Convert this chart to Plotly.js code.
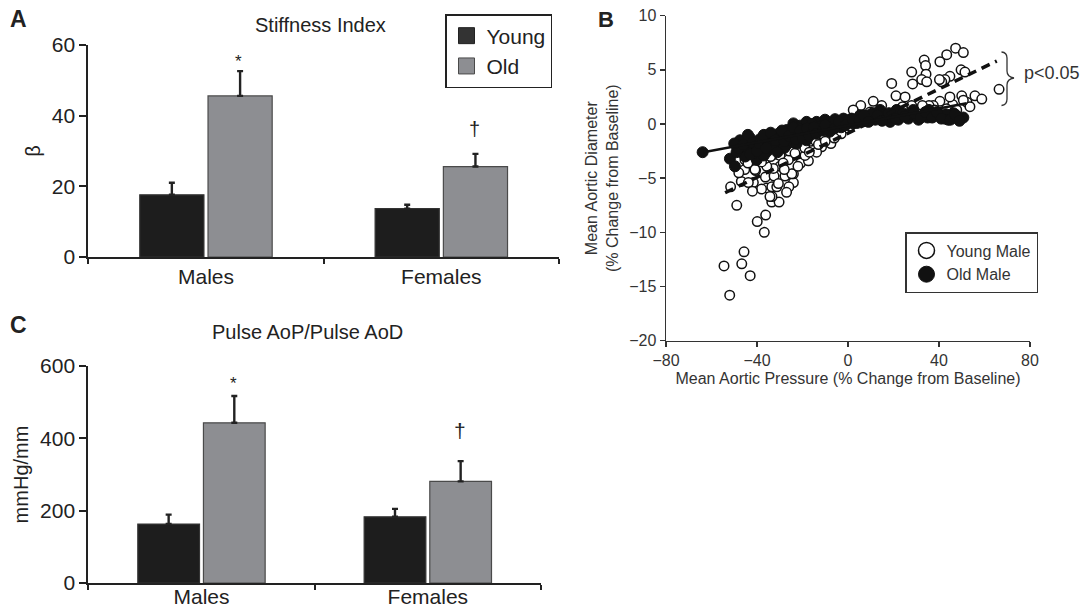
<!DOCTYPE html>
<html>
<head>
<meta charset="utf-8">
<script src="https://cdn.plot.ly/plotly-3.0.1.min.js"></script>
<style>
  html, body { margin: 0; padding: 0; background: #fff; }
  #fig { width: 1085px; height: 612px; }
</style>
</head>
<body>
<div id="fig"></div>
<script>
// ---- Panel A: stiffness index (beta) ----
const groups = ['Males', 'Females'];
const stiffYoung = [17.6, 13.7];
const stiffYoungErr = [3.4, 1.1];
const stiffOld = [45.6, 25.6];
const stiffOldErr = [7.0, 3.6];

// ---- Panel C: pulse aortic pressure / pulse aortic diameter (mmHg/mm) ----
const pulseYoung = [163, 183];
const pulseYoungErr = [26, 22];
const pulseOld = [443, 281];
const pulseOldErr = [74, 56];

// ---- Panel B: % change of mean aortic diameter vs mean aortic pressure ----
const youngMaleX = [
  -52, -54.5, -46.7, -43, -45.7, -36.8, -39.9, -36.2, -48.9, -51.6, -46.9, -41.6, -45.4, -40.6,
  -33.5, -30.3, -33.4, -35.7, -33.5, -31.3, -36.3, -32.5, -27.7, -24, -24, -29.9, -32.8, -35.7,
  -36.5, -26.2, -20.8, -17.4, -31.3, -25.8, -21.8, -15.2, -11.6, -16.4, -9.4, -5.0, -12.5, -41.6,
  -45.3, -29.9, -0.6, -3.5, -6.5, -8.6, -10.8, -14.5, -19.6, -22.6, 2.3,
  -23.3, -24.7, -40.9, -43.8, -30.6, -34.3, -28.5, -18.9, -13.8, -7.5, -3.0, 1.0, 4.5, 8.0, 12.0,
  16.5, 24.0, 30.5, 46.0, 52.3,
  -38, -34, -28, -26, -22, -19, -17, -13, -10, -6, -38, -27, -42, -48, -44,
  47.3, 50.7, 43.4, 40.4, 33.5, 34.1, 34.3, 28.0, 32.4, 34.6, 28.4, 19.2, 49.7, 51.4, 44.8, 42.6,
  41.2, 40.2, 66.4, 55.8, 58.8, 50.0, 53.6, 50.7, 44.8, 40.4, 37.5, 35.6, 32.7, 28.0, 21.1, 25.1,
  14.8, 11.1, 5.6, 2.3, 9.7, 21.4, 26.3, 19.6, 38.1, 41.9, 34.6, 43.3, 47.8
];
const youngMaleY = [
  -15.8, -13.1, -12.9, -14, -11.8, -10.0, -9.0, -8.4, -7.5, -5.8, -5.3, -5.4, -4.2, -4.3,
  -7.2, -7.2, -6.7, -5.9, -5.8, -5.8, -4.9, -4.8, -4.8, -5.4, -4.6, -3.9, -4.1, -3.9,
  -3.2, -3.3, -3.6, -3.4, -2.8, -2.5, -2.6, -2.2, -2.1, -1.6, -1.2, -1.0, -1.6, -3.3,
  -3.3, -2.9, 0.4, -0.15, -0.55, -1.5, -1.0, -1.5, -1.5, -1.5, 0.6,
  -2.7, -4.6, -4.2, -5.4, -5.5, -6.7, -3.6, -2.9, -2.6, -1.8, -0.9, -0.2, 0.2, 0.6, 0.9,
  0.7, 1.6, 1.2, 1.8, 2.0,
  -3.5, -3.0, -4.2, -5.8, -3.9, -2.2, -2.6, -1.9, -1.6, -1.3, -6.0, -6.3, -6.2, -4.5, -3.6,
  7.0, 6.6, 6.4, 5.75, 5.9, 5.4, 4.6, 4.8, 4.1, 3.9, 3.7, 3.75, 5.0, 4.8, 4.4, 4.1,
  3.9, 4.1, 3.2, 2.6, 2.3, 2.6, 1.6, 2.2, 2.5, 2.1, 1.7, 1.7, 1.7, 1.7, 2.6, 2.5,
  1.7, 2.1, 1.7, 1.3, 1.1, 1.3, 0.8, 1.0, 1.3, 0.8, 0.7, 1.4, 1.3
];
const oldMaleX = [
  -63.9, -51.9, -49.7, -46.0, -40.1, -45.2, -43.0, -38.7, -35.0, -30.6, -26.9, -24.0, -21.1, -18.2,
  -13.8, -10.1, -5.7, -44.5, -41.6, -38.0, -34.3, -29.9, -27.7, -24.0, -21.1, -16.7, -13.8, -9.4,
  -5.0, -0.6, -41.6, -35.7, -32.8, -26.9, -22.6, -18.2, -47.5, -45.2, -49.0,
  1.6, 5.3, 8.2, 11.1, 14.1, 17.0, 20.7, 23.6, 26.5, 30.2, 33.1, 36.8, 40.4, 42.6, 44.8, 50.7,
  46.3, 9.7, 18.5, 22.1, 14.1, 21.4, 28.7, 35.6, 3.8, -2.1, 2.3,
  -48, -43, -37, -33, -30, -28, -25, -22, -19, -16, -12, -8, -7, -3, -2, 0, 4, 6, 10, 12, 16,
  19, 24, 27, 31, 35, 38, 43, 44, 48,
  -50, -46, -44, -42, -40, -39, -37, -36, -34, -32, -31, -29, -28, -26, -24, -23, -21, -20, -18,
  -17, -15, -14, -11, -10, -6, -4, -1, 2, 5, 7, 9, 13, 15, 18, 21, 25, 29, 32, 34, 37, 39, 41,
  45, 47, 49
];
const oldMaleY = [
  -2.6, -3.2, -3.9, -2.7, -3.3, -1.5, -1.3, -1.4, -1.2, -0.9, -0.55, 0.06, -0.15, 0.2,
  0.2, 0.4, 0.45, -2.2, -2.1, -2.1, -1.8, -1.6, -1.3, -1.2, -0.9, -0.7, -0.55, -0.4,
  -0.2, 0.06, -2.7, -2.55, -2.2, -1.9, -1.8, -1.5, -1.5, -3.0, -2.6,
  0.5, 0.8, 0.7, 1.0, 0.7, 0.5, 0.8, 0.7, 0.5, 0.74, 0.8, 1.0, 0.8, 0.5, 0.7, 0.6,
  1.0, 0.37, 0.2, 0.4, 1.3, 1.3, 1.3, 1.3, 0.37, 0.2, 0.06,
  -2.2, -2.8, -2.9, -2.0, -1.2, -2.2, -0.8, -0.4, -1.0, 0.0, -0.2, -0.7, 0.1, -0.3, 0.5, 0.3,
  0.1, 0.5, 0.9, 0.4, 0.9, 0.6, 1.0, 0.9, 0.4, 0.6, 0.9, 0.9, 0.4, 0.7,
  -1.8, -1.9, -1.0, -1.7, -2.5, -1.8, -1.0, -2.2, -0.8, -1.5, -2.6, -0.6, -1.6, -1.1, -0.3, -1.4,
  -0.6, -1.3, -0.4, -1.1, -0.3, -0.9, -0.6, -0.1, -0.4, 0.2, -0.1, 0.4, 0.3, 0.8, 0.2, 0.8, 0.3,
  1.0, 0.5, 0.7, 1.0, 0.6, 1.1, 0.6, 1.1, 0.5, 0.4, 0.9, 0.3
];
// Linear fits for each group (end points of the fitted segments)
const youngFitX = [-54, 65.4];
const youngFitY = [-6.34, 5.82];
const oldFitX = [-63.6, 52.2];
const oldFitY = [-2.61, 1.91];

// ---- styling ----
const W = 1085, H = 612;
const FONT = 'Liberation Sans, Arial, Helvetica, sans-serif';
const INK = '#222';
const YOUNG_FILL = '#1d1d1d';
const OLD_FILL = '#8d8e92';
const zeros = arr => arr.map(() => 0);
const px = x => x / W;           // pixel column -> paper x
const py = y => 1 - y / H;       // pixel row -> paper y

function barTrace(y, err, fill, edge, xa, ya) {
  return {
    type: 'bar', x: groups, y: y, xaxis: xa, yaxis: ya, showlegend: false,
    marker: { color: fill, line: { color: edge, width: 1.2 } },
    error_y: { type: 'data', symmetric: false, array: err, arrayminus: zeros(err),
               color: INK, thickness: 2.4, width: 3 },
    hoverinfo: 'skip'
  };
}

const traces = [
  barTrace(stiffYoung, stiffYoungErr, YOUNG_FILL, '#333', 'x', 'y'),
  barTrace(stiffOld, stiffOldErr, OLD_FILL, '#4a4a4a', 'x', 'y'),
  barTrace(pulseYoung, pulseYoungErr, YOUNG_FILL, '#333', 'x3', 'y3'),
  barTrace(pulseOld, pulseOldErr, OLD_FILL, '#4a4a4a', 'x3', 'y3'),
  // legend keys for the bar panels
  { type: 'scatter', mode: 'markers', x: [null], y: [null], xaxis: 'x', yaxis: 'y',
    name: 'Young', legend: 'legend',
    marker: { symbol: 'square', size: 16, color: '#333', line: { color: '#222', width: 1 } } },
  { type: 'scatter', mode: 'markers', x: [null], y: [null], xaxis: 'x', yaxis: 'y',
    name: 'Old', legend: 'legend',
    marker: { symbol: 'square', size: 16, color: OLD_FILL, line: { color: '#4a4a4a', width: 1 } } },
  // scatter panel
  { type: 'scatter', mode: 'markers', x: youngMaleX, y: youngMaleY, xaxis: 'x2', yaxis: 'y2',
    showlegend: false, cliponaxis: false,
    marker: { symbol: 'circle', size: 9.5, color: '#fff', line: { color: '#111', width: 1.5 } } },
  { type: 'scatter', mode: 'markers', x: oldMaleX, y: oldMaleY, xaxis: 'x2', yaxis: 'y2',
    showlegend: false, cliponaxis: false,
    marker: { symbol: 'circle', size: 11, color: '#111', line: { color: '#111', width: 1 } } },
  { type: 'scatter', mode: 'lines', x: youngFitX, y: youngFitY, xaxis: 'x2', yaxis: 'y2',
    showlegend: false, line: { color: '#111', width: 3.5, dash: '9px,6px' } },
  { type: 'scatter', mode: 'lines', x: oldFitX, y: oldFitY, xaxis: 'x2', yaxis: 'y2',
    showlegend: false, line: { color: '#111', width: 2.5 } },
  // legend keys for the scatter panel
  { type: 'scatter', mode: 'markers', x: [null], y: [null], xaxis: 'x2', yaxis: 'y2',
    name: 'Young Male', legend: 'legend2',
    marker: { symbol: 'circle', size: 16, color: '#fff', line: { color: '#111', width: 1.5 } } },
  { type: 'scatter', mode: 'markers', x: [null], y: [null], xaxis: 'x2', yaxis: 'y2',
    name: 'Old Male', legend: 'legend2',
    marker: { symbol: 'circle', size: 16, color: '#111', line: { color: '#111', width: 1 } } }
];

const barX = (domain, anchor, standoff) => ({
  domain: domain, anchor: anchor, type: 'category', range: [-0.5, 1.5],
  showline: true, linecolor: INK, linewidth: 2, showgrid: false, zeroline: false,
  ticks: 'outside', tickson: 'boundaries', ticklen: 5, tickwidth: 2, tickcolor: INK,
  ticklabelstandoff: standoff,
  tickfont: { size: 21, color: INK }
});
const barY = (domain, anchor, range, tickvals, title) => ({
  domain: domain, anchor: anchor, range: range, tickvals: tickvals,
  showline: true, linecolor: INK, linewidth: 2, showgrid: false, zeroline: false,
  ticks: 'outside', ticklen: 7, tickwidth: 2, tickcolor: INK,
  tickfont: { size: 21, color: INK },
  title: { text: title, font: { size: 20, color: INK }, standoff: 6 }
});

// Curly brace joining the two fitted lines, in pixel space
const bracePts = [
  ['M', 1001.5, 52], ['Q', 1007, 52.5], [null, 1007, 58], ['L', 1007, 71],
  ['Q', 1007, 77], [null, 1014, 78], ['Q', 1007, 79], [null, 1007, 85],
  ['L', 1007, 99], ['Q', 1007, 105], [null, 1001.5, 105.5]
];
const bracePath = bracePts.map(p => (p[0] ? p[0] + ' ' : '') + px(p[1]).toFixed(5) + ',' + py(p[2]).toFixed(5)).join(' ');

const ann = (text, x, y, size, opts) => Object.assign({
  text: text, x: x, y: y, xref: 'paper', yref: 'paper', showarrow: false,
  xanchor: 'center', yanchor: 'middle', font: { size: size, color: INK, family: FONT }
}, opts || {});

const layout = {
  width: W, height: H, autosize: false,
  margin: { l: 0, r: 0, t: 0, b: 0, pad: 0 },
  paper_bgcolor: '#fff', plot_bgcolor: 'rgba(0,0,0,0)',
  font: { family: FONT, color: INK },
  barmode: 'group', bargap: 0.42, bargroupgap: 0.06,
  showlegend: true,
  xaxis: barX([px(88.3), px(559)], 'y', 0),
  yaxis: barY([py(257), py(45)], 'x', [0, 60], [0, 20, 40, 60], 'β'),
  xaxis3: barX([px(88.3), px(541)], 'y3', -6),
  yaxis3: barY([py(583), py(366)], 'x3', [0, 600], [0, 200, 400, 600], 'mmHg/mm'),
  xaxis2: {
    domain: [px(666), px(1030)], anchor: 'y2', range: [-80, 80], tickvals: [-80, -40, 0, 40, 80],
    showline: true, linecolor: '#333', linewidth: 1.5, showgrid: false, zeroline: false,
    ticks: 'outside', ticklen: 5, tickwidth: 1.5, tickcolor: '#333',
    tickfont: { size: 16, color: '#333' },
    title: { text: 'Mean Aortic Pressure (% Change from Baseline)', font: { size: 16, color: '#333' }, standoff: 4 }
  },
  yaxis2: {
    domain: [py(340.7), py(15.7)], anchor: 'x2', range: [-20, 10], tickvals: [-20, -15, -10, -5, 0, 5, 10],
    showline: true, linecolor: '#333', linewidth: 1.5, showgrid: false, zeroline: false,
    ticks: 'outside', ticklen: 5, tickwidth: 1.5, tickcolor: '#333',
    tickfont: { size: 16, color: '#333' },
    title: { text: 'Mean Aortic Diameter<br>(% Change from Baseline)', font: { size: 16, color: '#333' }, standoff: 6 }
  },
  legend: {
    x: px(445), y: py(14), xanchor: 'left', yanchor: 'top',
    bgcolor: '#fff', bordercolor: INK, borderwidth: 1.5,
    font: { size: 21, color: INK }, itemsizing: 'trace'
  },
  legend2: {
    x: px(905), y: py(232), xanchor: 'left', yanchor: 'top',
    bgcolor: '#fff', bordercolor: '#333', borderwidth: 1.5,
    font: { size: 16, color: '#333' }, itemsizing: 'trace'
  },
  shapes: [
    { type: 'path', xref: 'paper', yref: 'paper', path: bracePath,
      line: { color: '#333', width: 1.3 } }
  ],
  annotations: [
    ann('<b>A</b>', px(18), py(19), 23),
    ann('<b>B</b>', px(606), py(20), 22),
    ann('<b>C</b>', px(18), py(325), 23),
    ann('Stiffness Index', px(320), py(25), 20),
    ann('Pulse AoP/Pulse AoD', px(307), py(332), 20),
    ann('p<0.05', px(1052), py(73), 18, { font: { size: 18, color: '#333', family: FONT } }),
    // significance marks above the old-group bars
    { text: '*', x: 'Males', y: 55.3, xref: 'x', yref: 'y', xshift: 33, showarrow: false,
      font: { size: 17, color: INK, family: FONT } },
    { text: '†', x: 'Females', y: 36.2, xref: 'x', yref: 'y', xshift: 33, showarrow: false,
      font: { size: 20, color: INK, family: FONT } },
    { text: '*', x: 'Males', y: 551, xref: 'x3', yref: 'y3', xshift: 32, showarrow: false,
      font: { size: 17, color: INK, family: FONT } },
    { text: '†', x: 'Females', y: 423, xref: 'x3', yref: 'y3', xshift: 32, showarrow: false,
      font: { size: 21, color: INK, family: FONT } }
  ]
};

Plotly.newPlot('fig', traces, layout, { staticPlot: true, displayModeBar: false });
</script>
</body>
</html>
